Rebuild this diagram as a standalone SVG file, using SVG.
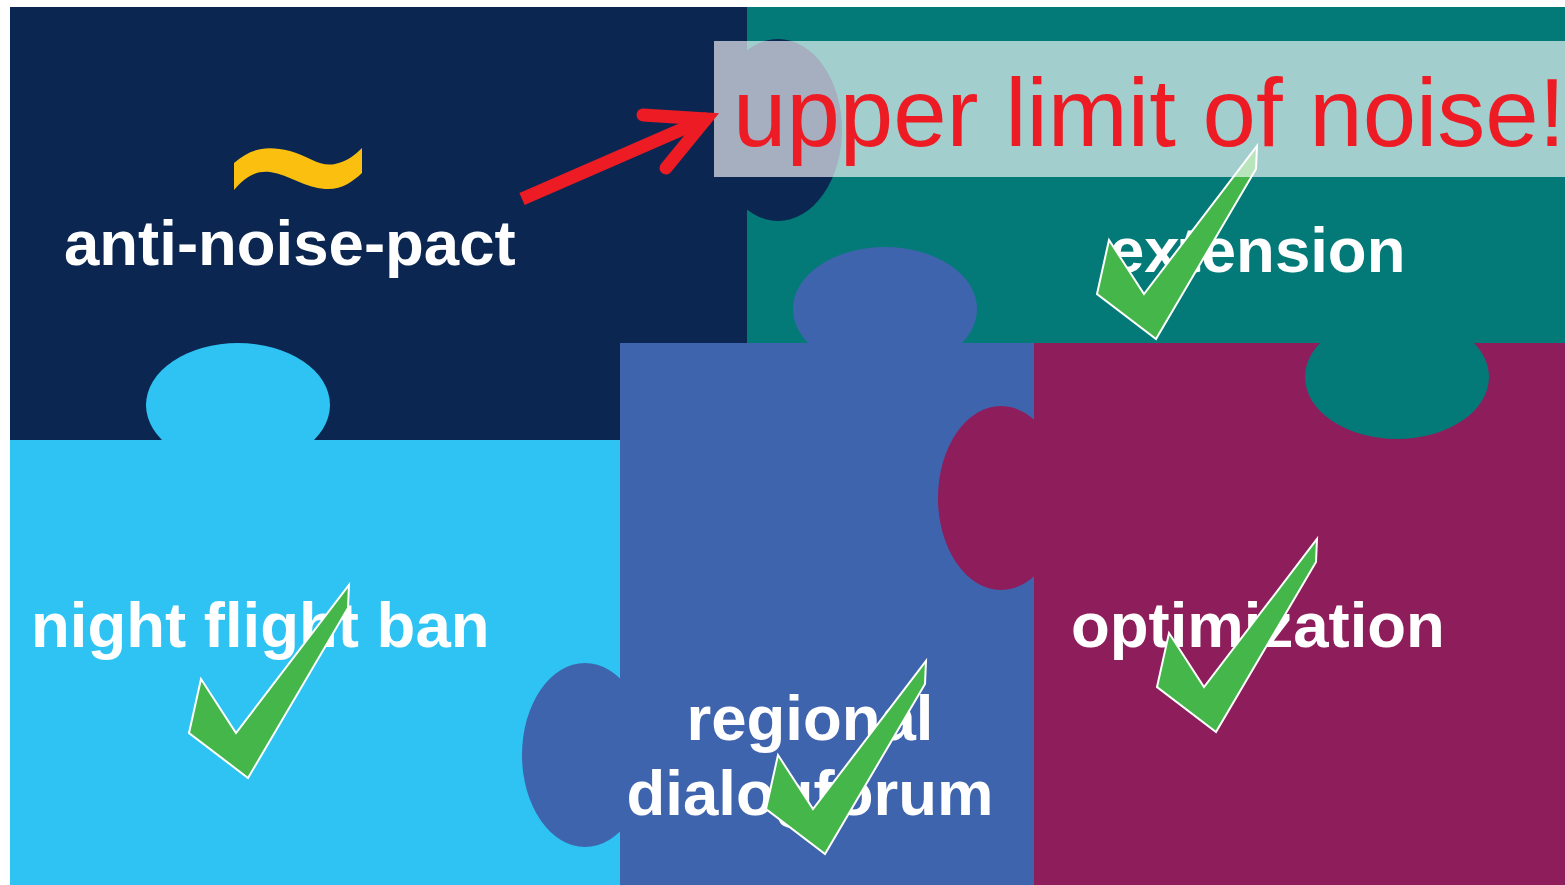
<svg xmlns="http://www.w3.org/2000/svg" width="1565" height="885" viewBox="0 0 1565 885">
<style>
.lbl{font-family:"Liberation Sans",Arial,sans-serif;font-weight:bold;font-size:63.5px;fill:#ffffff}
.chk{fill:#45b74a;stroke:#ffffff;stroke-width:2;stroke-linejoin:miter}
</style>
<defs>
<path id="check" d="M0,0 L12,-54 L47,0 L160,-148 L159,-125 L59,45 Z"/>
</defs>
<rect width="1565" height="885" fill="#ffffff"/>
<g id="anti-noise-pact">
<rect x="10" y="7" width="737" height="433" fill="#0b2751"/>
</g>
<g id="extension">
<rect x="747" y="7" width="818" height="336" fill="#047a78"/>
<ellipse cx="778" cy="130" rx="64" ry="91" fill="#0b2751"/>
</g>
<g id="night-flight-ban">
<rect x="10" y="440" width="610" height="445" fill="#2ec3f3"/>
<ellipse cx="238" cy="405" rx="92" ry="62" fill="#2ec3f3"/>
</g>
<g id="regional-dialogforum">
<rect x="620" y="343" width="414" height="542" fill="#3f64ae"/>
<ellipse cx="885" cy="309" rx="92" ry="62" fill="#3f64ae"/>
<ellipse cx="585" cy="755" rx="63" ry="92" fill="#3f64ae"/>
</g>
<g id="optimization">
<rect x="1034" y="343" width="531" height="542" fill="#8e1d5b"/>
<ellipse cx="1001" cy="498" rx="63" ry="92" fill="#8e1d5b"/>
<ellipse cx="1397" cy="377" rx="92" ry="62" fill="#047a78"/>
</g>
<g id="labels">
<text class="lbl" x="64" y="265">anti-noise-pact</text>
<text class="lbl" x="1109" y="272">extension</text>
<text class="lbl" x="31" y="647">night flight ban</text>
<text class="lbl" x="1071" y="647">optimization</text>
<text class="lbl" x="810" y="740" text-anchor="middle">regional</text>
<text class="lbl" x="810" y="815" text-anchor="middle">dialogforum</text>
</g>
<path id="tilde" d="M234,163 C250,149 265,145 290,151 C310,157 320,167 335,164 C348,161 355,155 362,148 L362,173 C352,182 342,190 325,189 C305,188 290,175 270,172 C255,170 244,178 234,190 Z" fill="#fbbf10"/>
<g id="checks">
<use href="#check" class="chk" transform="translate(189,733)"/>
<use href="#check" class="chk" transform="translate(1097,294)"/>
<use href="#check" class="chk" transform="translate(766,809)"/>
<use href="#check" class="chk" transform="translate(1157,687)"/>
</g>
<g id="upper-limit">
<rect x="714" y="41" width="851" height="136" fill="#ffffff" fill-opacity="0.63"/>
<text x="733" y="146" font-family="'Liberation Sans',Arial,sans-serif" font-size="96" fill="#ed1c24">upper limit of noise!</text>
</g>
<g id="connectors">
<line x1="522" y1="199" x2="708" y2="118" stroke="#ed1c24" stroke-width="13"/>
<polyline points="643,115 706,119 666,168" fill="none" stroke="#ed1c24" stroke-width="13" stroke-linecap="round" stroke-linejoin="miter"/>
</g>
</svg>
